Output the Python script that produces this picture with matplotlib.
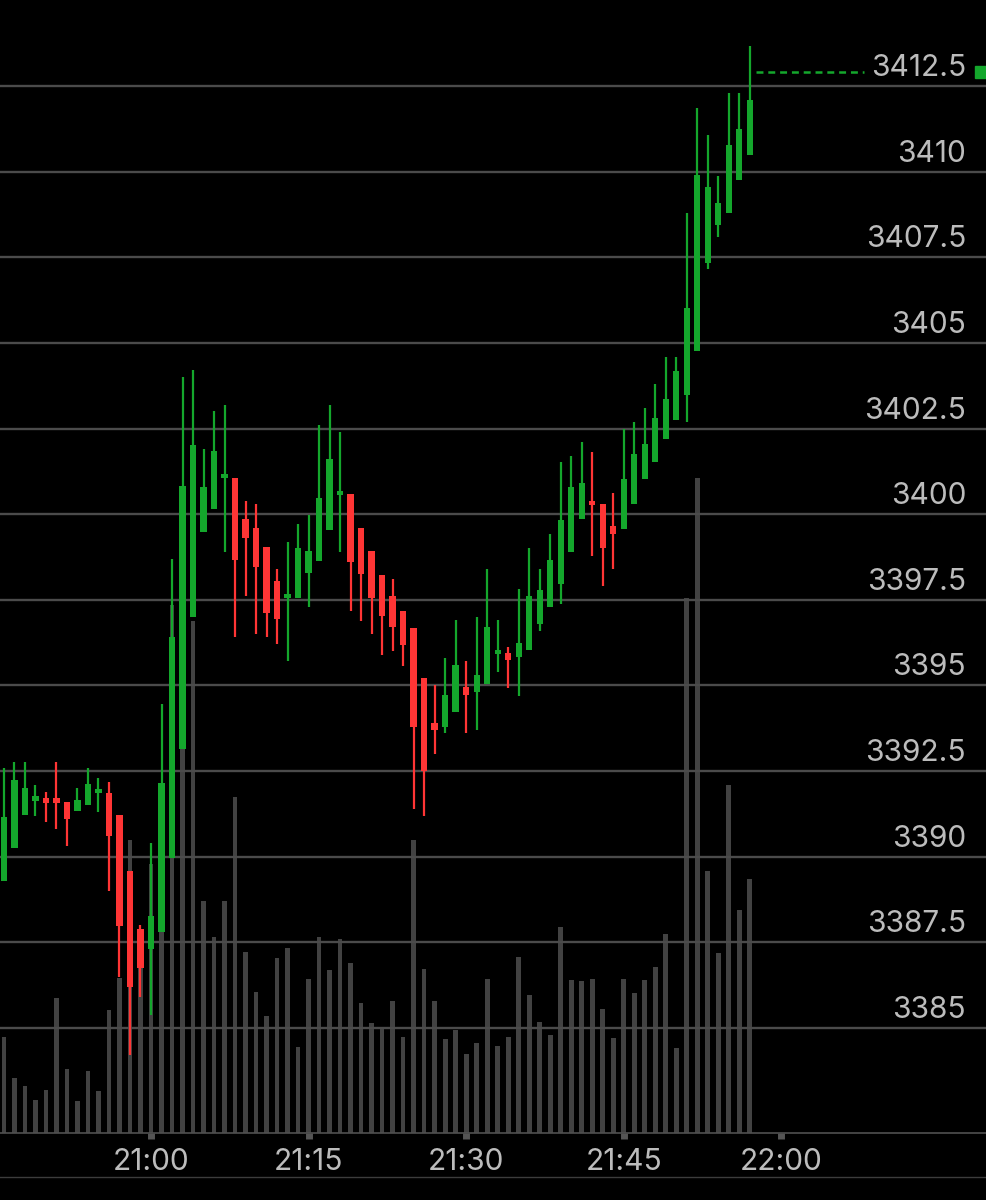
import numpy as np
import pandas as pd
import matplotlib
matplotlib.use('Agg')
import matplotlib.pyplot as plt
from matplotlib import transforms
from matplotlib.lines import Line2D

# one-minute candles, 20:46 .. 21:57
times = pd.date_range('2020-06-01 20:46', '2020-06-01 21:57', freq='min')

opens = [3389.30, 3390.25, 3391.22, 3391.63, 3391.70, 3391.65, 3391.60, 3391.33, 3391.51, 3391.85,
         3391.85, 3391.21, 3389.59, 3387.89, 3387.31, 3387.79, 3389.95, 3393.15, 3396.99, 3399.49,
         3400.15, 3401.05, 3401.05, 3399.87, 3399.59, 3399.05, 3398.05, 3397.55, 3397.54, 3398.28,
         3398.62, 3399.53, 3400.56, 3400.58, 3399.59, 3398.91, 3398.22, 3397.62, 3397.16, 3396.67,
         3395.21, 3393.89, 3393.79, 3394.23, 3394.94, 3394.82, 3395.04, 3395.92, 3395.94, 3395.84,
         3396.04, 3396.78, 3397.29, 3397.97, 3398.88, 3399.85, 3400.39, 3400.31, 3399.64, 3399.56,
         3400.29, 3401.02, 3401.53, 3402.19, 3402.76, 3403.47, 3404.75, 3407.34, 3408.44, 3408.78,
         3409.75, 3410.48]
highs = [3392.58, 3392.77, 3392.77, 3392.09, 3391.90, 3392.77, 3391.60, 3391.99, 3392.58, 3392.29,
         3392.19, 3391.21, 3389.59, 3387.99, 3390.40, 3394.47, 3398.69, 3404.01, 3404.20, 3401.90,
         3403.00, 3403.19, 3401.05, 3400.39, 3400.29, 3399.05, 3398.40, 3399.20, 3399.71, 3399.98,
         3402.61, 3403.19, 3402.41, 3400.58, 3399.59, 3398.91, 3398.22, 3398.10, 3397.16, 3396.67,
         3395.21, 3395.01, 3395.80, 3396.91, 3395.70, 3397.00, 3398.40, 3396.91, 3396.11, 3397.81,
         3399.02, 3398.39, 3399.41, 3401.51, 3401.70, 3402.12, 3401.80, 3400.31, 3400.61, 3402.50,
         3402.69, 3403.10, 3403.80, 3404.58, 3404.58, 3408.78, 3411.86, 3411.08, 3409.88, 3412.30,
         3412.30, 3413.67]
lows = [3389.30, 3390.25, 3391.22, 3391.19, 3391.00, 3390.80, 3390.30, 3391.33, 3391.51, 3391.29,
        3389.00, 3386.48, 3384.22, 3385.90, 3385.38, 3387.79, 3389.95, 3393.15, 3396.99, 3399.49,
        3400.15, 3398.88, 3396.40, 3397.62, 3396.50, 3396.40, 3396.21, 3395.70, 3397.54, 3397.30,
        3398.62, 3399.53, 3398.88, 3397.18, 3396.89, 3396.50, 3395.89, 3396.01, 3395.57, 3391.39,
        3391.20, 3392.99, 3393.60, 3394.23, 3393.60, 3393.70, 3395.04, 3395.40, 3394.91, 3394.70,
        3396.04, 3396.59, 3397.29, 3397.39, 3398.88, 3399.85, 3398.78, 3397.90, 3398.39, 3399.56,
        3400.29, 3401.02, 3401.53, 3402.19, 3402.76, 3402.69, 3404.75, 3407.16, 3408.08, 3408.78,
        3409.75, 3410.48]
closes = [3391.17, 3392.23, 3392.01, 3391.77, 3391.58, 3391.58, 3391.09, 3391.66, 3392.13, 3391.90,
          3390.61, 3387.97, 3386.19, 3386.74, 3388.26, 3392.14, 3396.40, 3400.83, 3402.01, 3400.78,
          3401.85, 3401.10, 3398.66, 3399.30, 3398.47, 3397.10, 3396.95, 3397.60, 3399.01, 3398.93,
          3400.46, 3401.62, 3400.60, 3398.59, 3398.25, 3397.55, 3397.03, 3396.69, 3396.18, 3393.79,
          3392.50, 3393.70, 3394.72, 3395.59, 3394.73, 3395.30, 3396.69, 3395.96, 3395.75, 3396.24,
          3397.60, 3397.78, 3398.65, 3399.82, 3400.78, 3400.92, 3400.26, 3399.02, 3399.43, 3401.02,
          3401.75, 3402.04, 3402.81, 3403.37, 3404.17, 3406.03, 3409.90, 3409.56, 3409.09, 3410.77,
          3411.24, 3412.08]
volumes = [96, 55, 47, 33, 43, 135, 64, 32, 62, 42,
           123, 155, 293, 165, 269, 273, 528, 393, 512, 232,
           196, 232, 336, 181, 141, 117, 175, 185, 86, 154,
           196, 163, 194, 170, 130, 110, 106, 132, 96, 293,
           164, 132, 94, 103, 79, 90, 154, 87, 96, 176,
           138, 111, 98, 206, 153, 152, 154, 124, 95, 154,
           140, 153, 166, 199, 85, 535, 655, 262, 180, 348,
           223, 254]
last_price = 3412.9

price_ticks = [3385, 3387.5, 3390, 3392.5, 3395, 3397.5, 3400, 3402.5, 3405, 3407.5, 3410, 3412.5]
time_ticks = ['21:00', '21:15', '21:30', '21:45', '22:00']

GREEN = '#14a72c'
RED = '#ff3535'
TEXT = '#bcbcbc'

o = np.array(opens)
h = np.array(highs)
l = np.array(lows)
c = np.array(closes)
ref = pd.Timestamp('2020-06-01 21:00')
x = ((times - ref) / pd.Timedelta(minutes=1)).to_numpy()
tick_x = [(pd.Timestamp('2020-06-01 ' + t) - ref) / pd.Timedelta(minutes=1) for t in time_ticks]

plt.rcParams['font.family'] = ['Inter', 'DejaVu Sans']
plt.rcParams['lines.scale_dashes'] = False

fig = plt.figure(figsize=(9.86, 12), dpi=100, facecolor='black')
rect = [0, 67 / 1200, 1, 1133 / 1200]
xlim = (-151 / 10.505, (986 - 151) / 10.505)

# volume underneath
axv = fig.add_axes(rect, zorder=0)
axv.set_facecolor('black')
axv.bar(x, volumes, width=0.45, color='#424242')
axv.set_xlim(*xlim)
axv.set_ylim(0, 1133)
axv.axis('off')

# price panel
ax = fig.add_axes(rect, zorder=1)
ax.patch.set_alpha(0)
ax.set_xlim(*xlim)
ax.set_ylim(3412.5 - 1047 / 34.25, 3412.5 + 86 / 34.25)

for p in price_ticks:
    ax.axhline(p, color='#4b4b4b', lw=1.7, zorder=1)

up = c >= o
colors = np.where(up, GREEN, RED)
ax.vlines(x, l, h, colors=colors, lw=1.6, zorder=3)
body_lo = np.minimum(o, c)
body_h = np.maximum(np.abs(c - o), 0.12)
ax.bar(x, body_h, bottom=body_lo, width=0.6, color=colors, zorder=4)

# last price marker
ax.plot([x[-1] + 0.6, x[-1] + 10.9], [last_price, last_price], color=GREEN, lw=1.8,
        dashes=(5, 3.5), zorder=4)
ax.plot([0.995], [last_price], marker='s', ms=8.5, color=GREEN,
        transform=transforms.blended_transform_factory(ax.transAxes, ax.transData),
        clip_on=False, zorder=5)

# price labels sit above their gridlines, inside the panel on the right
lab_tr = transforms.offset_copy(transforms.blended_transform_factory(ax.transAxes, ax.transData),
                                fig=fig, y=18, units='dots')
for p in price_ticks:
    txt = f'{p:g}'
    ax.text(966 / 986, p, txt, transform=lab_tr, ha='right', va='center',
            fontsize=21.5, color=TEXT, zorder=6)

ax.set_yticks([])
ax.set_xticks(tick_x)
ax.set_xticklabels(time_ticks)
ax.tick_params(axis='x', direction='out', length=4.5, width=5, color='#555555',
               pad=6, labelsize=21.5, labelcolor=TEXT)
for s in ['top', 'left', 'right']:
    ax.spines[s].set_visible(False)
ax.spines['bottom'].set_color('#505050')
ax.spines['bottom'].set_linewidth(1.2)

fig.add_artist(Line2D([0, 1], [1 - 1177 / 1200] * 2, color='#3c3c3c', lw=1))

fig.savefig('out.png', dpi=100, facecolor='black')
